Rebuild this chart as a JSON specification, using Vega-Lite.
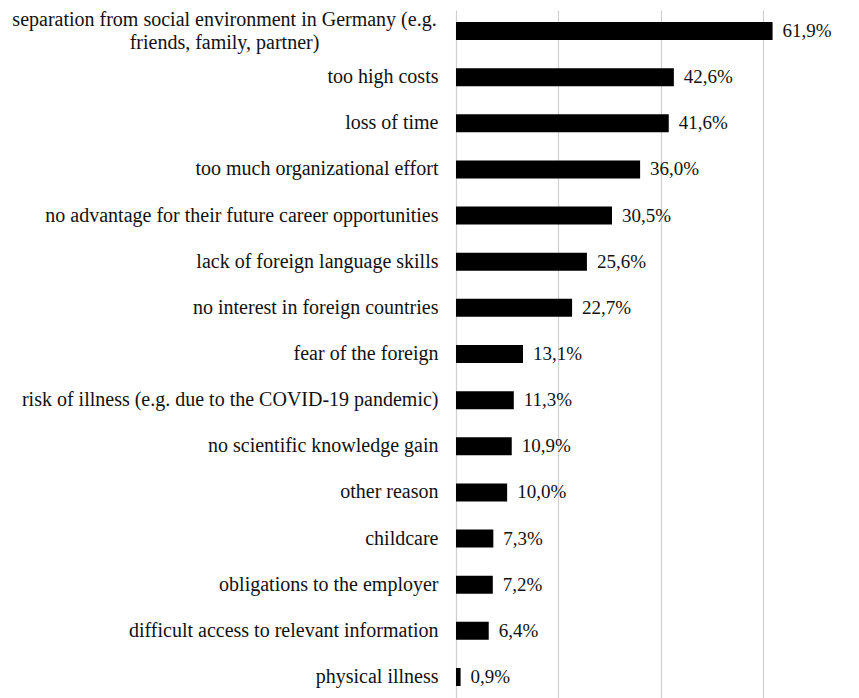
{
  "$schema": "https://vega.github.io/schema/vega-lite/v6.json",
  "autosize": "none",
  "width": 358,
  "height": 688,
  "padding": {"left": 456, "top": 10, "right": 45, "bottom": 0},
  "background": "white",
  "config": {"view": {"stroke": null}},
  "data": {
    "values": [
      {"reason": "separation from social environment in Germany (e.g. friends, family, partner)", "pct": 61.9, "label": "61,9%"},
      {"reason": "too high costs", "pct": 42.6, "label": "42,6%"},
      {"reason": "loss of time", "pct": 41.6, "label": "41,6%"},
      {"reason": "too much organizational effort", "pct": 36.0, "label": "36,0%"},
      {"reason": "no advantage for their future career opportunities", "pct": 30.5, "label": "30,5%"},
      {"reason": "lack of foreign language skills", "pct": 25.6, "label": "25,6%"},
      {"reason": "no interest in foreign countries", "pct": 22.7, "label": "22,7%"},
      {"reason": "fear of the foreign", "pct": 13.1, "label": "13,1%"},
      {"reason": "risk of illness (e.g. due to the COVID-19 pandemic)", "pct": 11.3, "label": "11,3%"},
      {"reason": "no scientific knowledge gain", "pct": 10.9, "label": "10,9%"},
      {"reason": "other reason", "pct": 10.0, "label": "10,0%"},
      {"reason": "childcare", "pct": 7.3, "label": "7,3%"},
      {"reason": "obligations to the employer", "pct": 7.2, "label": "7,2%"},
      {"reason": "difficult access to relevant information", "pct": 6.4, "label": "6,4%"},
      {"reason": "physical illness", "pct": 0.9, "label": "0,9%"}
    ]
  },
  "encoding": {
    "x": {
      "field": "pct",
      "type": "quantitative",
      "scale": {"domain": [0, 70], "nice": false},
      "axis": {
        "title": null,
        "labels": false,
        "ticks": false,
        "domain": false,
        "grid": true,
        "gridColor": "#d0d0d0",
        "gridWidth": 1.2,
        "values": [0, 20, 40, 60]
      }
    },
    "y": {
      "field": "reason",
      "type": "nominal",
      "sort": "-x",
      "scale": {"paddingInner": 0.61, "paddingOuter": 0.26},
      "axis": {
        "title": null,
        "ticks": false,
        "domain": false,
        "labelFont": "Liberation Serif",
        "labelFontSize": 20,
        "labelColor": "#111111",
        "labelLimit": 0,
        "labelLineHeight": 23,
        "labelAlign": {"condition": {"test": "datum.value == 'separation from social environment in Germany (e.g. friends, family, partner)'", "value": "center"}, "value": "right"},
        "labelPadding": {"condition": {"test": "datum.value == 'separation from social environment in Germany (e.g. friends, family, partner)'", "value": 232}, "value": 18},
        "labelOffset": {"condition": {"test": "datum.value == 'separation from social environment in Germany (e.g. friends, family, partner)'", "value": -11}, "value": 0},
        "labelExpr": "datum.value == 'separation from social environment in Germany (e.g. friends, family, partner)' ? ['separation from social environment in Germany (e.g.', 'friends, family, partner)'] : datum.label"
      }
    }
  },
  "layer": [
    {"mark": {"type": "bar", "color": "#000000"}},
    {
      "mark": {"type": "text", "align": "left", "baseline": "middle", "dx": 10, "font": "Liberation Serif", "fontSize": 19, "color": "#111111"},
      "encoding": {"text": {"field": "label"}}
    }
  ]
}
